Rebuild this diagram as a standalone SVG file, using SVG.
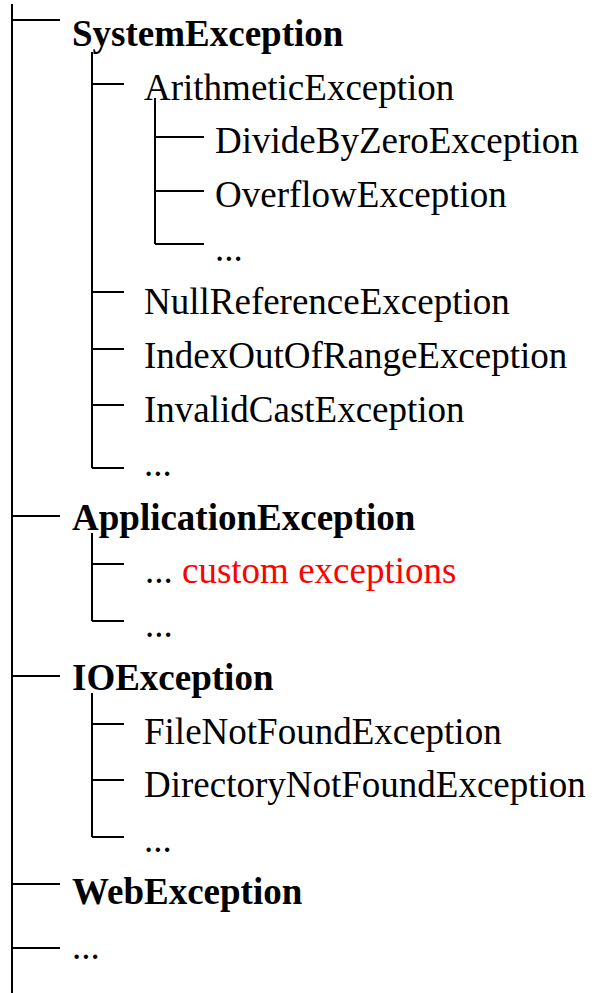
<svg xmlns="http://www.w3.org/2000/svg" width="594" height="993" viewBox="0 0 594 993">
<style>
.c{stroke:#000;stroke-width:2;fill:none}
text{font-family:"Liberation Serif","Times New Roman",serif;font-size:37px;fill:#000}
.b{font-weight:bold}
.r{fill:#ff0000}
</style>
<rect width="594" height="993" fill="#fff"/>
<g id="connectors" class="c">
<path d="M12 4V993"/>
<path d="M12 20H60M12 516H60M12 676H60M12 884H60M12 948H60"/>
<path d="M92 52V468M92 84H124M92 292H124M92 349H124M92 405H124M92 468H124"/>
<path d="M155 98V244M155 137H204M155 191H204M155 244H204"/>
<path d="M92 533V621M92 564H124M92 621H124"/>
<path d="M92 693V837M92 724H124M92 780H124M92 837H124"/>
</g>
<g id="SystemException"><text class="b" x="72" y="46">SystemException</text></g>
<g id="ArithmeticException"><text x="144" y="100">ArithmeticException</text></g>
<g id="DivideByZeroException"><text x="215" y="153">DivideByZeroException</text></g>
<g id="OverflowException"><text x="215" y="207">OverflowException</text></g>
<g id="arith-more"><text x="215" y="261">...</text></g>
<g id="NullReferenceException"><text x="144" y="314">NullReferenceException</text></g>
<g id="IndexOutOfRangeException"><text x="144" y="368">IndexOutOfRangeException</text></g>
<g id="InvalidCastException"><text x="144" y="422">InvalidCastException</text></g>
<g id="system-more"><text x="144" y="476">...</text></g>
<g id="ApplicationException"><text class="b" x="72" y="530">ApplicationException</text></g>
<g id="custom-exceptions"><text x="145" y="583">... <tspan class="r">custom exceptions</tspan></text></g>
<g id="application-more"><text x="145" y="637">...</text></g>
<g id="IOException"><text class="b" x="72" y="690">IOException</text></g>
<g id="FileNotFoundException"><text x="144" y="744">FileNotFoundException</text></g>
<g id="DirectoryNotFoundException"><text x="144" y="797">DirectoryNotFoundException</text></g>
<g id="io-more"><text x="144" y="852">...</text></g>
<g id="WebException"><text class="b" x="72" y="904">WebException</text></g>
<g id="root-more"><text x="72" y="959">...</text></g>
</svg>
